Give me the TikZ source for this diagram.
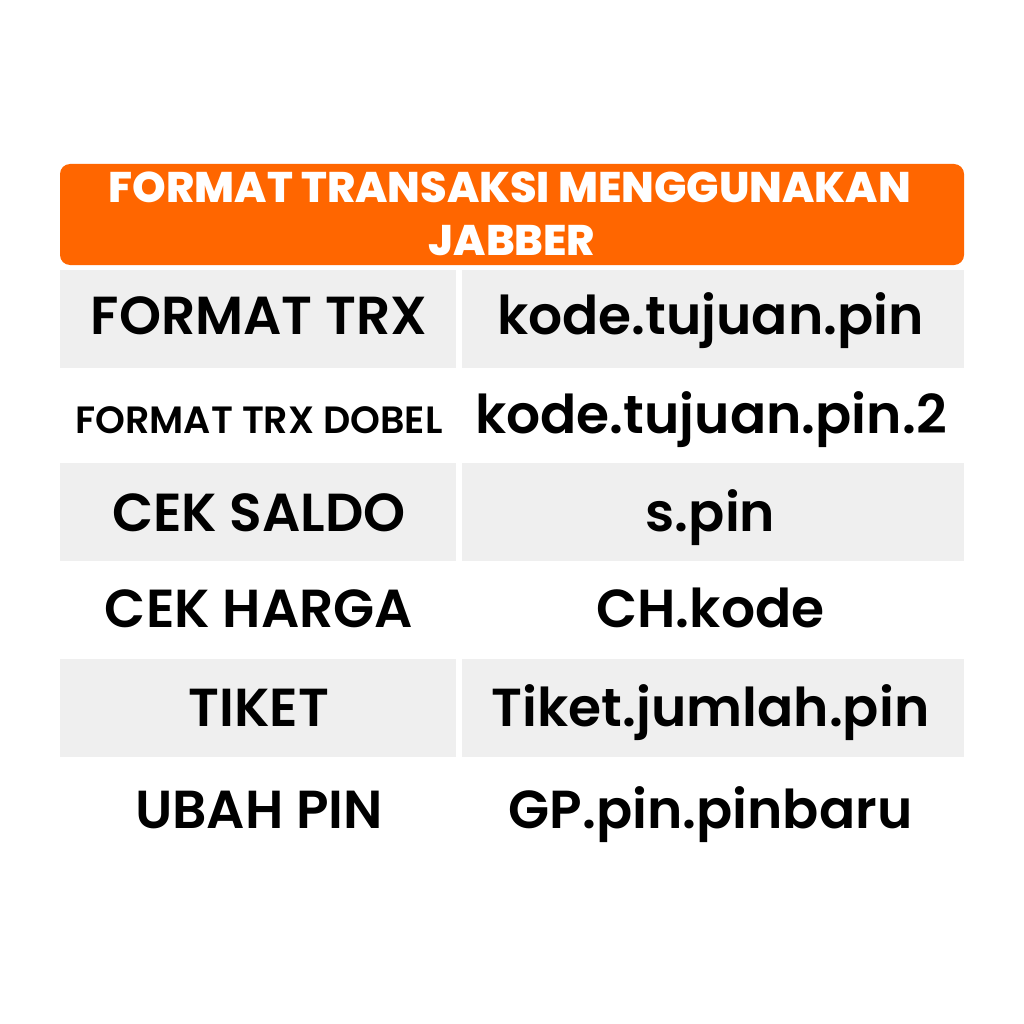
\documentclass[tikz,border=0pt]{standalone}
\usepackage{fontspec}
\setmainfont{Poppins}
\newfontfamily\hdrfont{Poppins ExtraBold}
\newfontfamily\bodyfont{Poppins SemiBold}
\definecolor{orangehdr}{HTML}{FF6600}
\definecolor{rowgray}{HTML}{EFEFEF}
\begin{document}
\begin{tikzpicture}[x=1pt,y=-1pt,
  hdrtext/.style={text=white,font=\hdrfont\fontsize{42.8}{52}\selectfont,align=center,inner sep=0pt},
  celltext/.style={text=black,font=\bodyfont\fontsize{53.5}{60}\selectfont,anchor=base,inner sep=0pt},
  smalltext/.style={text=black,font=\bodyfont\fontsize{38}{44}\selectfont,anchor=base,inner sep=0pt},
  grayrow/.style={fill=rowgray,draw=none}]
\useasboundingbox (0,0) rectangle (1024,1024);
\fill[white] (0,0) rectangle (1024,1024);
% header
\fill[orangehdr,rounded corners=10pt] (60,164) rectangle (964,265);
\node[hdrtext,anchor=base] (h1) at (510,203) {FORMAT TRANSAKSI MENGGUNAKAN};
\node[hdrtext,anchor=base] (h2) at (512,255) {JABBER};
% gray rows
\fill[grayrow] (60,270) rectangle (456,368);
\fill[grayrow] (462,270) rectangle (964,368);
\fill[grayrow] (60,463) rectangle (456,561);
\fill[grayrow] (462,463) rectangle (964,561);
\fill[grayrow] (60,659) rectangle (456,757);
\fill[grayrow] (462,659) rectangle (964,757);
% left column
\node[celltext] (l1) at (259,334) {FORMAT TRX};
\node[smalltext] (l2) at (259,433) {FORMAT TRX DOBEL};
\node[celltext] (l3) at (259,531) {CEK SALDO};
\node[celltext] (l4) at (259,627) {CEK HARGA};
\node[celltext] (l5) at (259,726) {TIKET};
\node[celltext] (l6) at (259,828) {UBAH PIN};
% right column
\node[celltext] (r1) at (710.5,334) {kode.tujuan.pin};
\node[celltext] (r2) at (711,433) {kode.tujuan.pin.2};
\node[celltext] (r3) at (710.5,531) {s.pin};
\node[celltext] (r4) at (710.5,627) {CH.kode};
\node[celltext] (r5) at (710.5,726) {Tiket.jumlah.pin};
\node[celltext] (r6) at (710.5,828) {GP.pin.pinbaru};
\end{tikzpicture}
\end{document}
